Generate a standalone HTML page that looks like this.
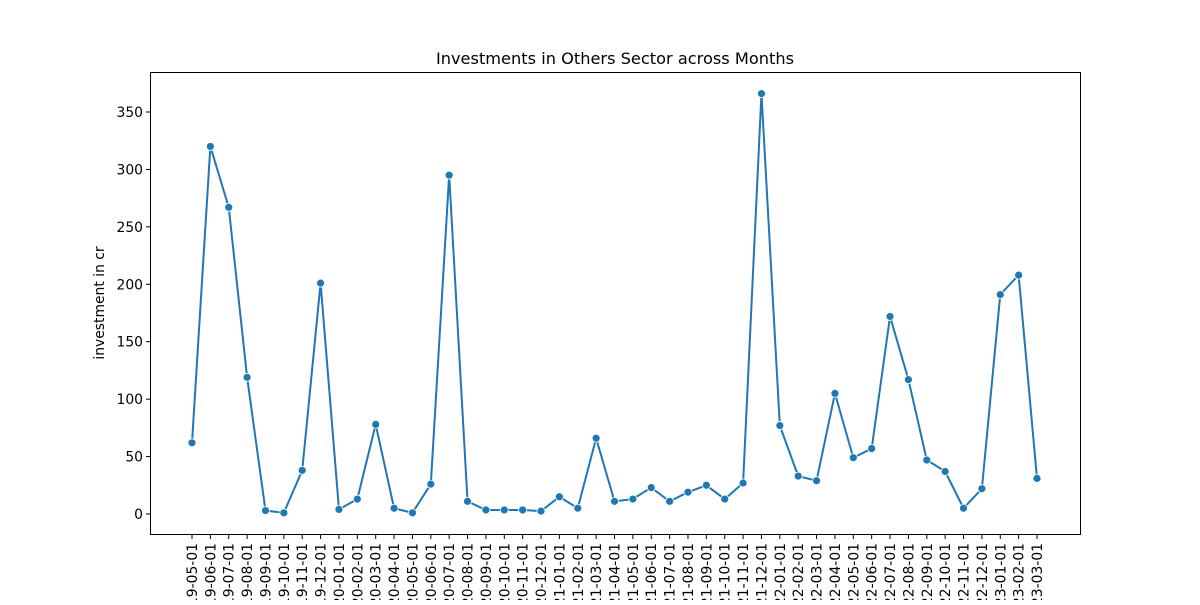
<!DOCTYPE html>
<html><head><meta charset="utf-8"><style>body{margin:0;background:#fff}svg text{font-family:"DejaVu Sans","Liberation Sans",sans-serif}</style></head>
<body>
<svg id="chart" width="1200" height="600" xmlns="http://www.w3.org/2000/svg">
<text x="615" y="64" text-anchor="middle" font-size="16.2">Investments in Others Sector across Months</text>
<rect x="150.5" y="72.5" width="930" height="462" fill="none" stroke="#000" stroke-width="1"/>
<text transform="translate(104,303) rotate(-90)" text-anchor="middle" font-size="13.9">investment in cr</text>
<g id="yaxis"></g><g id="xaxis"></g><g id="series"></g>
</svg>
<script>
const categories=["2019-05-01","2019-06-01","2019-07-01","2019-08-01","2019-09-01","2019-10-01","2019-11-01","2019-12-01","2020-01-01","2020-02-01","2020-03-01","2020-04-01","2020-05-01","2020-06-01","2020-07-01","2020-08-01","2020-09-01","2020-10-01","2020-11-01","2020-12-01","2021-01-01","2021-02-01","2021-03-01","2021-04-01","2021-05-01","2021-06-01","2021-07-01","2021-08-01","2021-09-01","2021-10-01","2021-11-01","2021-12-01","2022-01-01","2022-02-01","2022-03-01","2022-04-01","2022-05-01","2022-06-01","2022-07-01","2022-08-01","2022-09-01","2022-10-01","2022-11-01","2022-12-01","2023-01-01","2023-02-01","2023-03-01"];
const values=[62,320,267,119,3,1,38,201,4,13,78,5,1,26,295,11,3.5,3.5,3.5,2.5,15,5,66,11,13,23,11,19,25,13,27,366,77,33,29,105,49,57,172,117,47,37,5,22,191,208,31];
const yTicks=[0,50,100,150,200,250,300,350];
const NS="http://www.w3.org/2000/svg";
const xs=i=>192+i*(1037-192)/(categories.length-1);
const ys=v=>514-v*402/350;
function mk(t,a,p){const e=document.createElementNS(NS,t);for(const k in a)e.setAttribute(k,a[k]);p.appendChild(e);return e;}
const ya=document.getElementById('yaxis'),xa=document.getElementById('xaxis'),se=document.getElementById('series');
yTicks.forEach(t=>{
 const l=mk('line',{x1:146,x2:150,y1:ys(t),y2:ys(t),stroke:'#000'},ya);
 
 
 const tx=mk('text',{x:143,y:ys(t)+5,'text-anchor':'end','font-size':13.9},ya);
 
 
 tx.textContent=t;
});
categories.forEach((c,i)=>{
 const x=xs(i);
 const l=mk('line',{x1:x,x2:x,y1:535,y2:539,stroke:'#000'},xa);
 
 
 const tx=mk('text',{transform:`translate(${x+5},543) rotate(-90)`,'text-anchor':'end','font-size':13.9},xa);
 
 
 tx.textContent=c;
});
const pl=mk('polyline',{points:values.map((v,i)=>xs(i)+','+ys(v)).join(' '),fill:'none',stroke:'#1f77b4','stroke-width':2},se);


values.forEach((v,i)=>{
 const c=mk('circle',{cx:xs(i),cy:ys(v),r:4,fill:'#1f77b4',stroke:'#fff','stroke-width':0.8},se);
 
 
});
</script>
</body></html>
